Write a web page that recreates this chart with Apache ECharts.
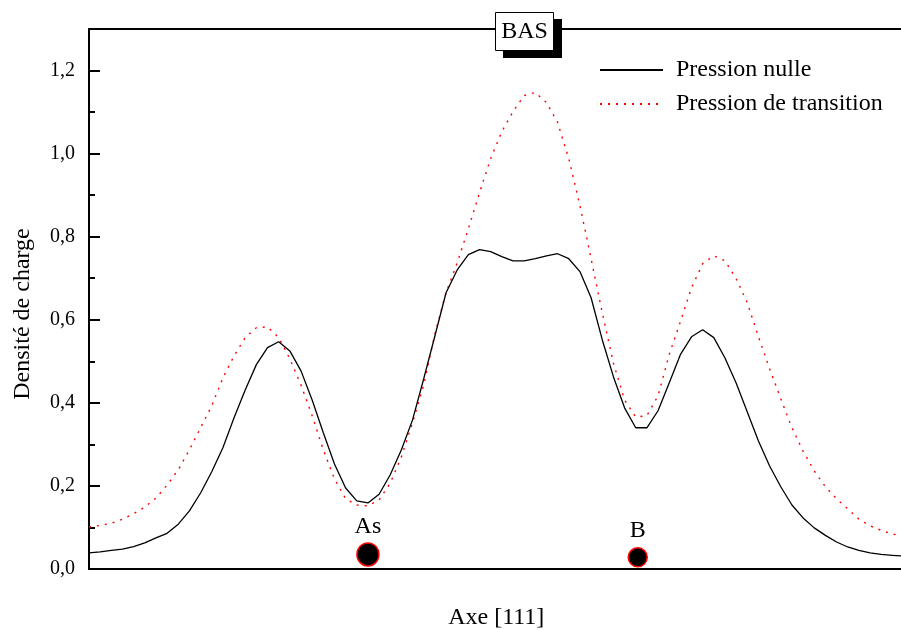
<!DOCTYPE html>
<html>
<head>
<meta charset="utf-8">
<script src="https://cdn.jsdelivr.net/npm/echarts@6/dist/echarts.min.js"></script>
<style>
  html, body { margin: 0; padding: 0; background: #fff; }
  #chart { width: 901px; height: 630px; }
</style>
</head>
<body>
<div id="chart"></div>
<script>
// Charge density sampled along the [111] axis (equally spaced sample positions).
const pressionNulle = [
  0.039, 0.041, 0.045, 0.048, 0.054, 0.063, 0.075, 0.086, 0.108, 0.140,
  0.183, 0.234, 0.292, 0.364, 0.431, 0.492, 0.533, 0.547, 0.525, 0.477,
  0.407, 0.328, 0.253, 0.195, 0.164, 0.159, 0.180, 0.227, 0.287, 0.359,
  0.458, 0.561, 0.665, 0.720, 0.757, 0.769, 0.764, 0.752, 0.742, 0.742,
  0.747, 0.754, 0.759, 0.747, 0.716, 0.653, 0.552, 0.463, 0.388, 0.340,
  0.340, 0.381, 0.448, 0.516, 0.559, 0.576, 0.557, 0.508, 0.448, 0.378,
  0.308, 0.248, 0.198, 0.154, 0.123, 0.099, 0.081, 0.065, 0.053, 0.045,
  0.039, 0.035, 0.033, 0.031
];
const pressionTransition = [
  0.101, 0.105, 0.110, 0.120, 0.133, 0.149, 0.171, 0.202, 0.239, 0.287,
  0.340, 0.393, 0.460, 0.513, 0.557, 0.581, 0.583, 0.557, 0.506, 0.443,
  0.369, 0.287, 0.217, 0.169, 0.154, 0.152, 0.166, 0.207, 0.270, 0.352,
  0.443, 0.566, 0.665, 0.737, 0.819, 0.906, 0.988, 1.053, 1.101, 1.140,
  1.147, 1.123, 1.075, 0.988, 0.875, 0.747, 0.617, 0.496, 0.407, 0.366,
  0.369, 0.417, 0.516, 0.595, 0.677, 0.735, 0.754, 0.742, 0.699, 0.641,
  0.559, 0.482, 0.410, 0.340, 0.284, 0.236, 0.198, 0.169, 0.145, 0.120,
  0.104, 0.093, 0.084, 0.080
];

// Atom sites on the [111] axis: name, position, marker height.
const atomNames = ['As', 'B'];
const atomPositions = [25.0, 49.18];
const atomHeights = [0.035, 0.028];

// Y axis ticks.
const majorTicks = [0, 0.2, 0.4, 0.6, 0.8, 1.0, 1.2];
const minorTicks = [0.1, 0.3, 0.5, 0.7, 0.9, 1.1];
const tickLabels = ['0,0', '0,2', '0,4', '0,6', '0,8', '1,0', '1,2'];

const seriesNames = ['Pression nulle', 'Pression de transition'];
const xMax = 73;
const serif = '"Liberation Serif", "Times New Roman", serif';

const toPairs = arr => arr.map((v, i) => [i, v]);

const chart = echarts.init(document.getElementById('chart'), null, { renderer: 'canvas' });

chart.setOption({
  animation: false,
  backgroundColor: '#ffffff',
  grid: { left: 89, right: -2.5, top: 29, bottom: 61, containLabel: false, outerBoundsMode: 'none' },
  legend: {
    data: seriesNames,
    orient: 'vertical',
    left: 599,
    top: 58,
    padding: 0,
    itemWidth: 63,
    itemHeight: 14,
    itemGap: 10,
    itemStyle: { opacity: 0 },
    textStyle: { fontFamily: serif, fontSize: 24, color: '#000', lineHeight: 24, padding: [0, 0, 0, 8] }
  },
  xAxis: [
    {
      type: 'value', min: 0, max: xMax,
      name: 'Axe [111]', nameLocation: 'middle', nameGap: 37,
      nameTextStyle: { fontFamily: serif, fontSize: 24, color: '#000' },
      axisLine: { show: true, onZero: false, lineStyle: { color: '#000', width: 2 } },
      axisTick: { show: false }, axisLabel: { show: false }, splitLine: { show: false }
    },
    {
      type: 'value', min: 0, max: xMax, position: 'top',
      axisLine: { show: true, onZero: false, lineStyle: { color: '#000', width: 2 } },
      axisTick: { show: false }, axisLabel: { show: false }, splitLine: { show: false }
    }
  ],
  yAxis: [
    {
      type: 'value', min: 0, max: 1.3, position: 'left',
      axisLine: { show: true, onZero: false, lineStyle: { color: '#000', width: 2 } },
      axisTick: { show: true, inside: true, length: 11, customValues: majorTicks, lineStyle: { color: '#000', width: 2 } },
      axisLabel: {
        show: true, customValues: majorTicks, margin: 14,
        fontFamily: serif, fontSize: 20, color: '#000',
        formatter: v => tickLabels[majorTicks.findIndex(t => Math.abs(t - v) < 1e-6)] || ''
      },
      splitLine: { show: false }
    },
    {
      type: 'value', min: 0, max: 1.3, position: 'left',
      axisLine: { show: false },
      axisTick: { show: true, inside: true, length: 6, customValues: minorTicks, lineStyle: { color: '#000', width: 2 } },
      axisLabel: { show: false },
      splitLine: { show: false }
    }
  ],
  series: [
    {
      name: seriesNames[0], type: 'line', data: toPairs(pressionNulle),
      symbol: 'none', smooth: false,
      lineStyle: { color: '#000', width: 1.3, type: 'solid' },
      itemStyle: { color: '#000' }, z: 3
    },
    {
      name: seriesNames[1], type: 'line', data: toPairs(pressionTransition),
      symbol: 'none', smooth: false,
      lineStyle: { color: '#ff0000', width: 1.4, type: [2, 6] },
      itemStyle: { color: '#ff0000' }, z: 2
    },
    {
      name: 'atoms', type: 'scatter',
      data: [
        { value: [atomPositions[0], atomHeights[0]], name: atomNames[0], symbolSize: [22, 23],
          label: { distance: 3 } },
        { value: [atomPositions[1], atomHeights[1]], name: atomNames[1], symbolSize: [19, 19],
          label: { distance: 4 } }
      ],
      itemStyle: { color: '#000', borderColor: '#ff0000', borderWidth: 1.5, opacity: 1 },
      label: { show: true, position: 'top', formatter: p => p.name, fontFamily: serif, fontSize: 24, color: '#000' },
      z: 4
    }
  ],
  graphic: [
    // Y axis title, rotated to read bottom-to-top
    { type: 'text', x: 23, y: 314, rotation: Math.PI / 2,
      style: { text: 'Densité de charge', font: '24px ' + serif, fill: '#000', align: 'center', verticalAlign: 'middle' } },
    // "BAS" title box with its drop shadow
    { type: 'rect', left: 503, top: 19, shape: { width: 59, height: 39 }, style: { fill: '#000' }, z: 10 },
    { type: 'rect', left: 495, top: 12, shape: { width: 58, height: 38 }, style: { fill: '#fff', stroke: '#000', lineWidth: 1 }, z: 11 },
    { type: 'text', x: 524.5, y: 31.5, style: { text: 'BAS', font: '24px ' + serif, fill: '#000', align: 'center', verticalAlign: 'middle' }, z: 12 }
  ]
});
</script>
</body>
</html>
